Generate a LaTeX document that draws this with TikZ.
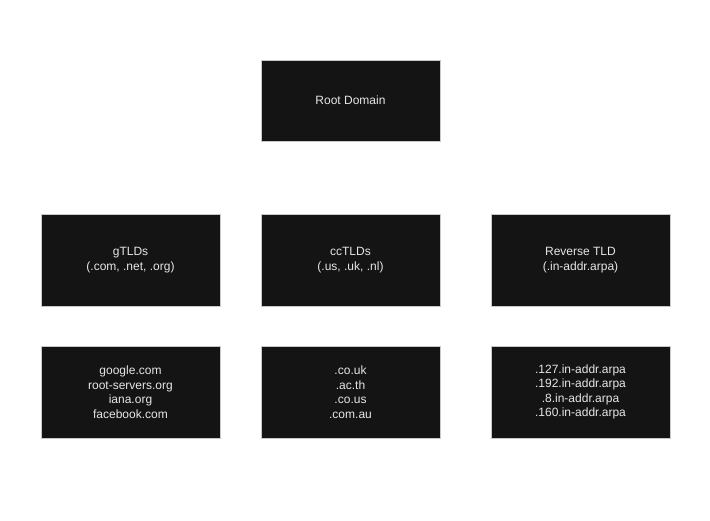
\documentclass[tikz,border=0pt]{standalone}
\usepackage{fontspec}
\setmainfont{Liberation Sans}
\definecolor{boxfill}{HTML}{141414}
\definecolor{boxline}{HTML}{C8C8C8}
\definecolor{txt}{HTML}{E6E6E6}
\begin{document}
\begin{tikzpicture}[x=1pt,y=-1pt,
  box/.style={fill=boxfill,draw=boxline,line width=0.8pt,minimum width=179pt,text=txt,align=center,inner sep=0pt,font=\fontsize{12}{14.5}\selectfont}]
\useasboundingbox (0,0) rectangle (710,520);
\node[box,minimum height=81pt] (root) at (350.5,100.5) {Root Domain};
\node[box,minimum height=92pt] (g) at (130.5,260) {gTLDs\\(.com, .net, .org)};
\node[box,minimum height=92pt] (cc) at (350.5,260) {ccTLDs\\(.us, .uk, .nl)};
\node[box,minimum height=92pt] (rev) at (580.5,260) {Reverse TLD\\(.in-addr.arpa)};
\node[box,minimum height=92pt] (gex) at (130.5,392) {google.com\\root-servers.org\\iana.org\\facebook.com};
\node[box,minimum height=92pt] (ccex) at (350.5,392) {.co.uk\\.ac.th\\.co.us\\.com.au};
\node[box,minimum height=92pt] (revex) at (580.5,392) {.127.in-addr.arpa\\.192.in-addr.arpa\\.8.in-addr.arpa\\.160.in-addr.arpa};
\end{tikzpicture}
\end{document}
